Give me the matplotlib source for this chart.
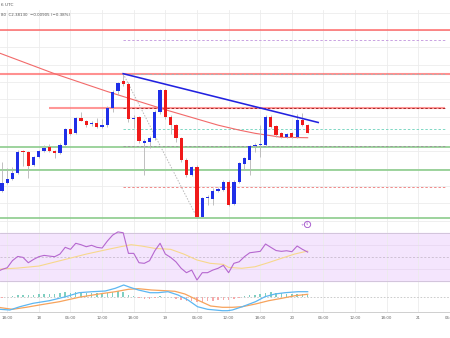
import matplotlib
matplotlib.use("Agg")
import matplotlib.pyplot as plt
import numpy as np

# hourly candles, x = hours counted from the 17th 00:00 UTC
hours = list(range(17, 76))
opens = [2.3146, 2.3238, 2.3277, 2.3347, 2.3592, 2.3592, 2.3439, 2.3535, 2.3600, 2.3647,
         2.3607, 2.3584, 2.3677, 2.3854, 2.3808, 2.3988, 2.3950, 2.3912, 2.3927, 2.3884,
         2.3907, 2.4103, 2.4296, 2.4408, 2.4380, 2.3970, 2.3993, 2.3693, 2.3711, 2.3757,
         2.4054, 2.4302, 2.3993, 2.3904, 2.3750, 2.3500, 2.3327, 2.3423, 2.2846, 2.3058,
         2.3047, 2.3146, 2.3154, 2.3250, 2.2992, 2.3250, 2.3450, 2.3500, 2.3665, 2.3670,
         2.3673, 2.3999, 2.3892, 2.3812, 2.3762, 2.3806, 2.3762, 2.3967, 2.39035]
highs = [2.3477, 2.3408, 2.3419, 2.3615, 2.3615, 2.3604, 2.3546, 2.3615, 2.3673, 2.3685,
         2.3615, 2.3696, 2.3869, 2.3869, 2.3996, 2.4054, 2.3962, 2.3950, 2.3985, 2.3973,
         2.4123, 2.4308, 2.4400, 2.4496, 2.4400, 2.4019, 2.4008, 2.3742, 2.3777, 2.4077,
         2.4325, 2.4319, 2.4019, 2.3915, 2.3765, 2.3523, 2.3431, 2.3442, 2.3073, 2.3096,
         2.3177, 2.3188, 2.3269, 2.3269, 2.3269, 2.3477, 2.3535, 2.3673, 2.3696, 2.3904,
         2.4019, 2.4019, 2.3904, 2.3823, 2.3812, 2.3823, 2.4031, 2.4042, 2.3915]
lows = [2.3131, 2.3223, 2.3269, 2.3338, 2.3431, 2.3292, 2.3431, 2.3523, 2.3592, 2.3592,
        2.3523, 2.3569, 2.3662, 2.3788, 2.3800, 2.3950, 2.3881, 2.3892, 2.3869, 2.3869,
        2.3881, 2.4054, 2.4250, 2.4354, 2.3938, 2.3869, 2.3696, 2.3327, 2.3638, 2.3731,
        2.4031, 2.3973, 2.3800, 2.3708, 2.3477, 2.3304, 2.3315, 2.2837, 2.2837, 2.2981,
        2.2981, 2.3131, 2.3142, 2.2969, 2.2981, 2.3235, 2.3385, 2.3327, 2.3592, 2.3535,
        2.3662, 2.3869, 2.3765, 2.3754, 2.3754, 2.3754, 2.3754, 2.3892, 2.3806]
closes = [2.3238, 2.3277, 2.3347, 2.3592, 2.3587, 2.3431, 2.3535, 2.3600, 2.3638, 2.3604,
          2.3584, 2.3677, 2.3854, 2.3800, 2.3981, 2.3953, 2.3904, 2.3927, 2.3884, 2.3904,
          2.4103, 2.4285, 2.4388, 2.4380, 2.3970, 2.3988, 2.3723, 2.3719, 2.3757, 2.4054,
          2.4304, 2.3996, 2.3900, 2.3750, 2.3500, 2.3327, 2.3416, 2.2846, 2.3058, 2.3070,
          2.3142, 2.3162, 2.3250, 2.2981, 2.3250, 2.3462, 2.3520, 2.3662, 2.3677, 2.3677,
          2.3999, 2.3884, 2.3788, 2.3762, 2.3800, 2.3762, 2.3967, 2.39035, 2.3813]

# 100-hour moving average (read at a few points)
ma_hours = [16, 27, 37, 48, 58, 62, 65, 70, 75]
ma_vals = [2.4746, 2.4495, 2.4290, 2.4080, 2.3902, 2.3845, 2.3808, 2.3762, 2.3757]

# drawn levels
red_levels = [2.5000, 2.4489]
red_level_from26 = 2.4105
green_levels = [2.3653, 2.3388, 2.2834]
swing_high = (40, 2.4496)
swing_low = (54, 2.2837)
trend_end = (77, 2.3933)
fib_ratios = [-0.236, 0.0, 0.236, 0.382, 0.5, 0.786]
fib_colors = ["#c9a2e2", "#b0b0b0", "#a82a2a", "#7fd8c4", "#9a9a9a", "#f08a8a"]

# RSI (14) per hour, from hour 16
rsi_hours = list(range(16, 76))
rsi_vals = [37.5, 39.5, 41.0, 47.0, 50.5, 49.7, 45.2, 48.0, 50.3, 51.4,
            50.8, 50.3, 52.5, 58.2, 56.5, 61.6, 60.4, 58.7, 59.9, 58.2,
            57.6, 63.5, 68.5, 71.2, 70.5, 53.1, 53.1, 45.2, 44.7, 46.9,
            55.3, 61.6, 52.5, 49.7, 46.0, 40.5, 36.8, 39.0, 30.6, 36.8,
            36.8, 39.0, 40.5, 43.0, 36.8, 44.7, 46.0, 50.3, 53.6, 54.2,
            54.8, 61.0, 58.2, 55.5, 54.8, 55.3, 54.5, 59.3, 56.5, 54.2]
rsi_ma_hours = [16, 20, 24, 29, 33, 36.5, 39.5, 41.5, 43.5, 46, 49, 51.5, 54, 56.5,
                59, 60, 62.5, 65, 67.5, 70, 72.5, 75]
rsi_ma_vals = [39.7, 40.7, 42.4, 48.0, 52.5, 55.9, 58.7, 60.4, 59.3, 57.3, 56.5, 52.5,
               47.5, 44.7, 43.8, 41.3, 40.5, 41.8, 45.2, 48.9, 52.5, 55.1]

# MACD
macd_hours = [16, 18.5, 20.4, 22.9, 26, 29.1, 31.6, 34.1, 36.6, 38.5, 40.1, 41.3, 42.9,
              45.1, 46.6, 48.5, 50.4, 52.3, 54.1, 56, 58.8, 59.8, 60.7, 62.6, 65.1, 66.9,
              68.8, 70.7, 73.2, 75]
macd_vals = [-0.0124, -0.0133, -0.0100, -0.0066, -0.0040, 0.0000, 0.0040, 0.0050, 0.0057,
             0.0084, 0.0117, 0.0094, 0.0067, 0.0040, 0.0040, 0.0050, 0.0017, -0.0033,
             -0.0100, -0.0126, -0.0140, -0.0140, -0.0133, -0.0100, -0.0050, 0.0000,
             0.0027, 0.0040, 0.0050, 0.0050]
signal_hours = [16, 19, 21.6, 24.1, 27.9, 31.6, 35.4, 38.5, 41, 42.9, 45.4, 47.9, 49.8,
                51.7, 54.1, 56.6, 58.8, 60.7, 62.6, 65.1, 67.6, 70.1, 72.6, 75]
signal_vals = [-0.0104, -0.0126, -0.0106, -0.0083, -0.0050, -0.0006, 0.0027, 0.0050,
               0.0074, 0.0080, 0.0067, 0.0060, 0.0054, 0.0027, -0.0033, -0.0093, -0.0106,
               -0.0106, -0.0100, -0.0073, -0.0040, -0.0016, 0.0010, 0.0024]
hist_vals = [-0.0015, -0.0005, 0.0008, 0.0020, 0.0020, 0.0015, 0.0020, 0.0025, 0.0030, 0.0030,
             0.0030, 0.0035, 0.0045, 0.0040, 0.0050, 0.0045, 0.0040, 0.0040, 0.0035, 0.0030,
             0.0040, 0.0050, 0.0055, 0.0050, 0.0020, 0.0005, -0.0015, -0.0020, -0.0020, -0.0010,
             0.0005, 0.0000, -0.0005, -0.0020, -0.0035, -0.0040, -0.0040, -0.0050, -0.0050, -0.0045,
             -0.0040, -0.0035, -0.0030, -0.0035, -0.0020, -0.0010, 0.0005, 0.0015, 0.0020, 0.0030,
             0.0040, 0.0045, 0.0040, 0.0035, 0.0030, 0.0025, 0.0030, 0.0025, 0.0020]

tick_hours = [18, 24, 30, 36, 42, 48, 54, 60, 66, 72, 78, 84, 90, 96, 102]
tick_labels = ["18:00", "18", "06:00", "12:00", "18:00", "19", "06:00", "12:00",
               "18:00", "20", "06:00", "12:00", "18:00", "21", "06:00"]

UP, DOWN, WICK = "#1f2fe8", "#f01a1a", "#b5b5b5"
GRID = "#ececec"
XMIN, XMAX = 16.63, 101.0

fig = plt.figure(figsize=(4.5, 3.38), dpi=100)
H = 338


def pane(top_px, bottom_px):
    a = fig.add_axes([0, 1 - bottom_px / H, 1, (bottom_px - top_px) / H])
    a.set_xlim(XMIN, XMAX)
    a.set_xticks(tick_hours)
    a.tick_params(length=0, labelleft=False, labelbottom=False)
    a.grid(True, color=GRID, lw=0.6)
    a.set_axisbelow(True)
    for s in a.spines.values():
        s.set_visible(False)
    return a


ax = pane(10, 228)
ax_rsi = pane(228, 283)
ax_macd = pane(283, 312)

# ---- price pane ----
ax.set_ylim(2.2715, 2.5231)
ax.set_yticks(np.arange(2.28, 2.521, 0.02))
ax.spines["bottom"].set_visible(True)
ax.spines["bottom"].set_color("#dddddd")
ax.spines["bottom"].set_linewidth(0.6)

ax.axhline(red_levels[0], color="#ff4f4f", lw=1.1, alpha=0.85, zorder=1)
ax.axhline(red_levels[1], color="#ff6b6b", lw=1.5, alpha=0.75, zorder=1)
ax.hlines(red_level_from26, 26, XMAX, color="#ff6b6b", lw=1.5, alpha=0.7, zorder=1)
for lvl in green_levels:
    ax.axhline(lvl, color="#8ccc8c", lw=1.2, zorder=1)

rng = swing_high[1] - swing_low[1]
for r, c in zip(fib_ratios, fib_colors):
    ax.hlines(swing_high[1] - r * rng, swing_high[0], XMAX, color=c, lw=0.7,
              linestyles=(0, (2.5, 2)), zorder=1.5)
ax.plot([swing_high[0], swing_low[0]], [swing_high[1], swing_low[1]],
        color="#b8b8b8", lw=0.7, ls=(0, (1.5, 1.5)), zorder=1.5)

ax.plot(ma_hours, ma_vals, color="#f26a6a", lw=0.8, zorder=2)

for h, o, hi, lo, c in zip(hours, opens, highs, lows, closes):
    col = UP if c >= o else DOWN
    ax.vlines(h, lo, hi, color=WICK, lw=0.6, zorder=2.5)
    body = max(abs(c - o), 0.0012)
    ax.bar(h, body, bottom=min(o, c), width=0.62, color=col, lw=0, zorder=3)

ax.plot([swing_high[0], trend_end[0]], [swing_high[1], trend_end[1]],
        color="#2222e0", lw=1.15, zorder=4)

ax.plot(74.9, 2.2762, "o", ms=4.5, mfc="white", mec="#a95fcf", mew=0.7, zorder=4)
ax.text(74.9, 2.2762, "$", fontsize=2.6, color="#a95fcf", ha="center", va="center", zorder=5)
ax.text(73.9, 2.2752, "+", fontsize=3, color="#a95fcf", ha="center", va="center", zorder=5)

# ---- RSI pane ----
ax_rsi.set_ylim(28.1, 74.5)
ax_rsi.set_yticks([40, 60])
ax_rsi.grid(axis="y", color="#e6d6ef", lw=0.5)
ax_rsi.axhspan(30, 70, color="#f4e5fd", zorder=0)
ax_rsi.axhline(70, color="#cdbfd6", lw=0.6, zorder=1)
ax_rsi.axhline(30, color="#cdbfd6", lw=0.6, zorder=1)
ax_rsi.axhline(50, color="#c9bccf", lw=0.6, ls=(0, (2.5, 2)), zorder=1)
ax_rsi.plot(rsi_ma_hours, rsi_ma_vals, color="#f7d88c", lw=0.8, zorder=2)
ax_rsi.plot(rsi_hours, rsi_vals, color="#b567cf", lw=0.8, zorder=3)
ax_rsi.spines["bottom"].set_visible(True)
ax_rsi.spines["bottom"].set_color("#d4d4d4")
ax_rsi.spines["bottom"].set_linewidth(0.6)

# ---- MACD pane ----
ax_macd.set_ylim(-0.0153, 0.0137)
ax_macd.set_yticks([])
ax_macd.axhline(0, color="#c4c4c4", lw=0.6, ls=(0, (2, 2)), zorder=1)
hist_colors = ["#7fcfc1" if v >= 0 else "#f6a9a9" for v in hist_vals]
ax_macd.bar(hours, hist_vals, width=0.28, color=hist_colors, lw=0, zorder=2)
ax_macd.plot(signal_hours, signal_vals, color="#f7a35c", lw=0.9, zorder=3)
ax_macd.plot(macd_hours, macd_vals, color="#5db7f2", lw=0.9, zorder=4)
ax_macd.spines["bottom"].set_visible(True)
ax_macd.spines["bottom"].set_color("#c8c8c8")
ax_macd.spines["bottom"].set_linewidth(0.6)
ax_macd.set_xticklabels(tick_labels)
ax_macd.tick_params(labelbottom=True, labelsize=2.9, labelcolor="#666666", pad=3.2)

# ---- header ----
fig.text(0.002, 1 - 5 / H, "6 UTC", fontsize=3.1, color="#555555", va="center")
fig.text(0.002, 1 - 15 / H, "80  C2.38130  \u22120.00905 (\u22120.38%)",
         fontsize=2.9, color="#555555", va="center")

fig.savefig("out.png", dpi=100, facecolor="white")
